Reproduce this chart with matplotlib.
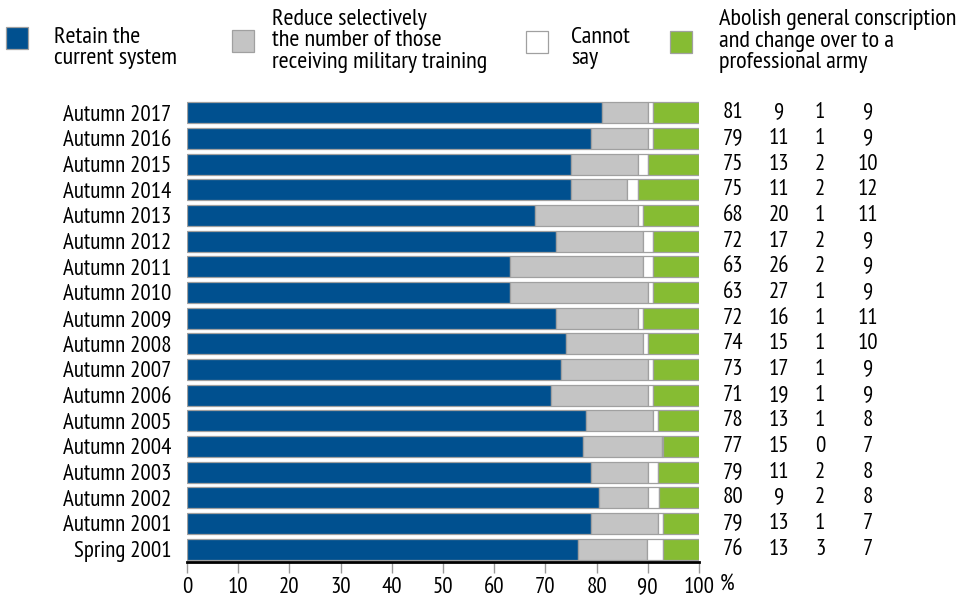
import matplotlib
matplotlib.use("Agg")
import matplotlib.pyplot as plt
from matplotlib.patches import Rectangle
from matplotlib import font_manager

names = set(f.name for f in font_manager.fontManager.ttflist)
font = "DejaVu Sans"
for cand in ["PT Sans Narrow", "Fira Sans Condensed", "Roboto Condensed",
             "Open Sans Condensed", "Asap Condensed", "Liberation Sans Narrow"]:
    if cand in names:
        font = cand
        break
plt.rcParams['font.family'] = [font, 'DejaVu Sans']
if font == "DejaVu Sans":
    plt.rcParams['font.stretch'] = 'condensed'

labels = ["Autumn 2017", "Autumn 2016", "Autumn 2015", "Autumn 2014", "Autumn 2013",
          "Autumn 2012", "Autumn 2011", "Autumn 2010", "Autumn 2009", "Autumn 2008",
          "Autumn 2007", "Autumn 2006", "Autumn 2005", "Autumn 2004", "Autumn 2003",
          "Autumn 2002", "Autumn 2001", "Spring 2001"]
# printed values
retain = [81, 79, 75, 75, 68, 72, 63, 63, 72, 74, 73, 71, 78, 77, 79, 80, 79, 76]
reduce_ = [9, 11, 13, 11, 20, 17, 26, 27, 16, 15, 17, 19, 13, 15, 11, 9, 13, 13]
cannot = [1, 1, 2, 2, 1, 2, 2, 1, 1, 1, 1, 1, 1, 0, 2, 2, 1, 3]
abolish = [9, 9, 10, 12, 11, 9, 9, 9, 11, 10, 9, 9, 8, 7, 8, 8, 7, 7]
# bar lengths as drawn (unrounded)
bar_retain = [81, 79, 75, 75, 68, 72, 63, 63, 72, 74, 73, 71, 78, 77.4, 79, 80.5, 79, 76.4]
bar_reduce = [9, 11, 13, 11, 20, 17, 26, 27, 16, 15, 17, 19, 13, 15.4, 11, 9.5, 13, 13.5]
bar_cannot = [1, 1, 2, 2, 1, 2, 2, 1, 1, 1, 1, 1, 1, 0.2, 2, 2.1, 1, 3.1]
bar_abolish = [9, 9, 10, 12, 11, 9, 9, 9, 11, 10, 9, 9, 8, 7.2, 8, 7.9, 7, 7.0]

series = [retain, reduce_, cannot, abolish]
bars = [bar_retain, bar_reduce, bar_cannot, bar_abolish]
colors = ["#00508F", "#C4C4C4", "#FFFFFF", "#86BC33"]
legend_texts = ["Retain the\ncurrent system",
                "Reduce selectively\nthe number of those\nreceiving military training",
                "Cannot\nsay",
                "Abolish general conscription\nand change over to a\nprofessional army"]
xticks = [0, 10, 20, 30, 40, 50, 60, 70, 80, 90, 100]

FS = 16.5
FL = 17.5
W, H = 965, 601
fig = plt.figure(figsize=(W / 100, H / 100), dpi=100)
ax = fig.add_axes([187 / W, 1 - 562 / H, 512 / W, 462 / H])

n = len(labels)
ypos = list(range(n))
left = [0] * n
for vals, c in zip(bars, colors):
    ax.barh(ypos, vals, left=left, height=0.82, color=c, edgecolor="#A0A0A0", linewidth=0.9)
    left = [a + b for a, b in zip(left, vals)]

ax.set_ylim(n - 0.5, -0.5)
ax.set_xlim(0, 100)
ax.set_yticks(ypos)
ax.set_yticklabels(labels, fontsize=FS)
ax.set_xticks(xticks)
ax.set_xticklabels([str(t) for t in xticks], fontsize=FS)
ax.tick_params(axis='y', length=0, pad=11)
ax.tick_params(axis='x', length=8, width=1, color="#999999", pad=3, direction='out')
for s in ["top", "right", "left"]:
    ax.spines[s].set_visible(False)
ax.spines["bottom"].set_linewidth(2)
ax.spines["bottom"].set_color("black")

fig.text(720 / W, 1 - 584 / H, "%", fontsize=FS, va='center', ha='left')

# value columns
col_x = [733, 779, 820, 868]
for vals, cx in zip(series, col_x):
    xd = (cx - 187) / 512 * 100
    for i, v in enumerate(vals):
        ax.text(xd, i, str(v), ha='center', va='center', fontsize=FS, clip_on=False)

# legend
sq = [(6, 27), (232, 30), (526, 31), (670, 31)]
txt = [(54, 48), (272, 41), (571, 48), (719, 41)]
for (sx, sy), (tx, ty), c, t in zip(sq, txt, colors, legend_texts):
    fig.patches.append(Rectangle((sx / W, 1 - (sy + 22) / H), 22 / W, 22 / H,
                                 transform=fig.transFigure, facecolor=c,
                                 edgecolor="#A0A0A0", linewidth=0.9))
    fig.text(tx / W, 1 - ty / H, t, ha='left', va='center', fontsize=FL, linespacing=1.05)

fig.savefig("out.png", dpi=100)
